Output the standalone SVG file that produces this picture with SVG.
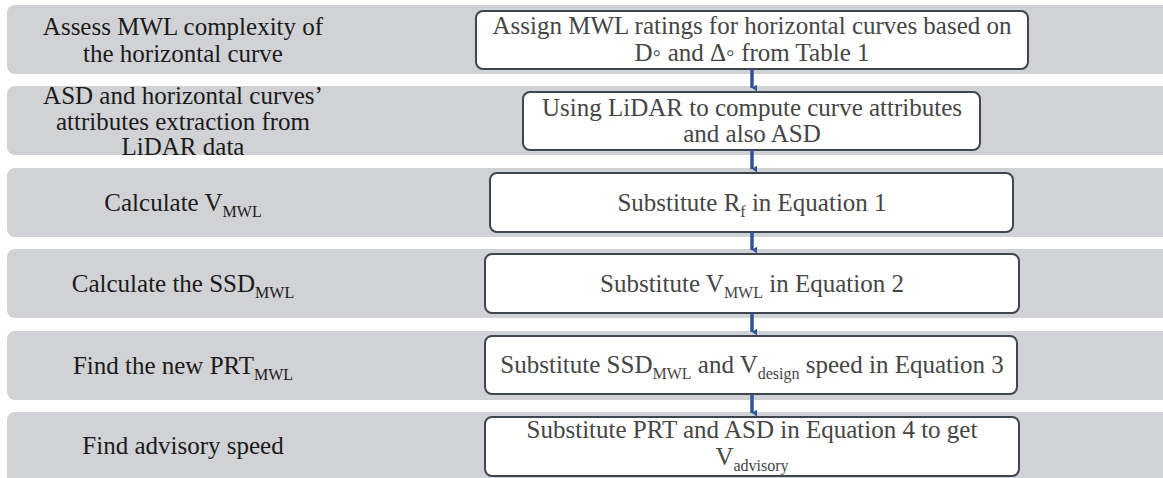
<svg xmlns="http://www.w3.org/2000/svg" width="1163" height="478" viewBox="0 0 1163 478">
<defs>
<style>
.band{fill:#d1d2d6}
.box{fill:#ffffff;stroke:#3e4650;stroke-width:2}
.lt{font-family:"Liberation Serif","Times New Roman",serif;font-size:25px;fill:#1a1a1a;text-anchor:middle}
.rt{font-family:"Liberation Serif","Times New Roman",serif;font-size:25px;fill:#454545;text-anchor:middle}
.sub{font-size:16px}
.conn{stroke:#2f5597;stroke-width:3.5;fill:none;marker-end:url(#ah)}
</style>
<marker id="ah" viewBox="0 0 7 5" refX="3.5" refY="5" markerWidth="7" markerHeight="5" markerUnits="userSpaceOnUse" orient="auto">
<path d="M0,0 L7,0 L3.5,5 Z" fill="#2f5597"/>
</marker>
</defs>
<rect width="1163" height="478" fill="#ffffff"/>

<g id="row1">
<rect class="band" x="7" y="5" width="1170" height="69" rx="8"/>
<text class="lt" x="183" y="35">Assess MWL complexity of</text>
<text class="lt" x="183" y="62">the horizontal curve</text>
</g>
<g id="row2">
<rect class="band" x="7" y="86" width="1170" height="69" rx="8"/>
<text class="lt" x="183" y="104">ASD and horizontal curves’</text>
<text class="lt" x="183" y="130">attributes extraction from</text>
<text class="lt" x="183" y="155">LiDAR data</text>
</g>
<g id="row3">
<rect class="band" x="7" y="168" width="1170" height="69" rx="8"/>
<text class="lt" x="183" y="211">Calculate V<tspan class="sub" dy="6">MWL</tspan></text>
</g>
<g id="row4">
<rect class="band" x="7" y="249" width="1170" height="69" rx="8"/>
<text class="lt" x="183" y="292">Calculate the SSD<tspan class="sub" dy="6">MWL</tspan></text>
</g>
<g id="row5">
<rect class="band" x="7" y="331" width="1170" height="69" rx="8"/>
<text class="lt" x="183" y="374">Find the new PRT<tspan class="sub" dy="6">MWL</tspan></text>
</g>
<g id="row6">
<rect class="band" x="7" y="412" width="1170" height="80" rx="8"/>
<text class="lt" x="183" y="454">Find advisory speed</text>
</g>

<g id="box1">
<rect class="box" x="476" y="11" width="552" height="58" rx="7"/>
<text class="rt" x="752" y="34">Assign MWL ratings for horizontal curves based on</text>
<text class="rt" x="752" y="61">D◦ and Δ◦ from Table 1</text>
</g>
<g id="box2">
<rect class="box" x="523" y="92" width="457" height="58" rx="7"/>
<text class="rt" x="752" y="116">Using LiDAR to compute curve attributes</text>
<text class="rt" x="752" y="142">and also ASD</text>
</g>
<g id="box3">
<rect class="box" x="490" y="173" width="523" height="59" rx="7"/>
<text class="rt" x="752" y="211">Substitute R<tspan class="sub" dy="6">f</tspan><tspan dy="-6"> in Equation 1</tspan></text>
</g>
<g id="box4">
<rect class="box" x="485" y="254" width="534" height="59" rx="7"/>
<text class="rt" x="752" y="292">Substitute V<tspan class="sub" dy="6">MWL</tspan><tspan dy="-6"> in Equation 2</tspan></text>
</g>
<g id="box5">
<rect class="box" x="485" y="336" width="532" height="58" rx="7"/>
<text class="rt" x="752" y="373">Substitute SSD<tspan class="sub" dy="6">MWL</tspan><tspan dy="-6"> and V</tspan><tspan class="sub" dy="6">design</tspan><tspan dy="-6"> speed in Equation 3</tspan></text>
</g>
<g id="box6">
<rect class="box" x="485" y="417" width="534" height="59" rx="7"/>
<text class="rt" x="752" y="438">Substitute PRT and ASD in Equation 4 to get</text>
<text class="rt" x="752" y="465">V<tspan class="sub" dy="6">advisory</tspan></text>
</g>

<g id="connectors">
<line class="conn" x1="752" y1="69" x2="752" y2="88"/>
<line class="conn" x1="752" y1="150" x2="752" y2="169"/>
<line class="conn" x1="752" y1="232" x2="752" y2="250"/>
<line class="conn" x1="752" y1="313" x2="752" y2="332"/>
<line class="conn" x1="752" y1="394" x2="752" y2="413"/>
</g>
</svg>
